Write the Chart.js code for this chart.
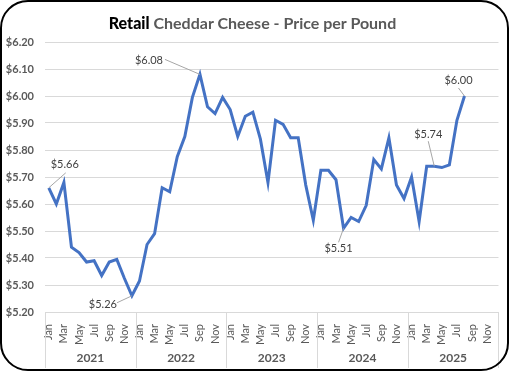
<!DOCTYPE html>
<html>
<head>
<meta charset="utf-8">
<script src="https://cdn.jsdelivr.net/npm/chart.js@4"></script>
<style>
  html, body { margin:0; padding:0; background:#fff; }
  #wrap { position:relative; width:512px; height:372px; overflow:hidden; }
  #frame { position:absolute; left:0; top:0; width:509px; height:371px; box-sizing:border-box;
           border:2px solid #000; border-radius:28px; pointer-events:none; }
  #title { position:absolute; left:0; top:13px; width:505px; text-align:center;
           font:bold 16px Lato, "Liberation Sans", sans-serif; color:#595959; white-space:nowrap; }
  #title b { color:#000; }
  canvas { position:absolute; left:0; top:0; }
</style>
</head>
<body>
<div id="wrap">
  <canvas id="c" width="512" height="372"></canvas>
  <div id="title"><b>Retail</b> Cheddar Cheese - Price per Pound</div>
  <div id="frame"></div>
</div>
<script>
const years = ["2021", "2022", "2023", "2024", "2025"];
const monthNames = ["Jan","Feb","Mar","Apr","May","Jun","Jul","Aug","Sep","Oct","Nov","Dec"];
const yTickValues = [5.2, 5.3, 5.4, 5.5, 5.6, 5.7, 5.8, 5.9, 6.0, 6.1, 6.2];
const prices = [
  5.66, 5.60, 5.68, 5.44, 5.42, 5.385, 5.39, 5.335, 5.385, 5.395, 5.325, 5.26,
  5.315, 5.45, 5.49, 5.66, 5.645, 5.775, 5.85, 5.995, 6.08, 5.96, 5.935, 5.995,
  5.95, 5.85, 5.925, 5.94, 5.84, 5.68, 5.91, 5.895, 5.845, 5.845, 5.67, 5.54,
  5.725, 5.725, 5.69, 5.51, 5.55, 5.535, 5.595, 5.765, 5.73, 5.845, 5.67, 5.62,
  5.70, 5.535, 5.74, 5.74, 5.735, 5.745, 5.91, 6.00
];
const labeledIndices = [0, 11, 20, 39, 51, 55];

const categories = [];
years.forEach(y => monthNames.forEach(m => categories.push(m + " " + y)));

// label placement (style): text offset and leader-line end offset relative to the point
const labelPlacement = {
  0:  { tx: 16,  ty: -23, lx: 17,  ly: -15 },
  11: { tx: -29, ty: 9,   lx: -15, ly: 7 },
  20: { tx: -51, ty: -14, lx: -35, ly: -15 },
  39: { tx: -5,  ty: 20,  lx: -5,  ly: 14 },
  51: { tx: -6,  ty: -32, lx: -6,  ly: -25 },
  55: { tx: -6,  ty: -16, lx: -6,  ly: -8 }
};

const overlay = {
  id: 'overlay',
  afterDraw(chart) {
    const ctx = chart.ctx;
    const xs = chart.scales.x;
    const area = chart.chartArea;
    ctx.save();
    ctx.strokeStyle = '#d9d9d9';
    ctx.lineWidth = 1;
    const half = (xs.getPixelForValue(1) - xs.getPixelForValue(0)) / 2;
    for (let k = 0; k <= years.length; k++) {
      const idx = k * 12;
      const x = Math.round(xs.getPixelForValue(Math.min(idx, categories.length - 1)) + (idx >= categories.length ? half : -half)) + 0.5;
      ctx.beginPath();
      ctx.moveTo(x, area.bottom);
      ctx.lineTo(x, area.bottom + 56);
      ctx.stroke();
    }
    ctx.fillStyle = '#595959';
    ctx.font = 'bold 12px Lato, "Liberation Sans", sans-serif';
    ctx.textAlign = 'center';
    ctx.textBaseline = 'middle';
    years.forEach((y, k) => {
      const x0 = xs.getPixelForValue(k * 12) - half;
      const x1 = xs.getPixelForValue(k * 12 + 11) + half;
      ctx.fillText(y, (x0 + x1) / 2, area.bottom + 46);
    });
    const meta = chart.getDatasetMeta(0);
    ctx.font = '11px Lato, "Liberation Sans", sans-serif';
    ctx.fillStyle = '#404040';
    labeledIndices.forEach(i => {
      const p = meta.data[i];
      const o = labelPlacement[i];
      ctx.strokeStyle = '#a6a6a6';
      ctx.lineWidth = 1;
      ctx.beginPath();
      ctx.moveTo(p.x, p.y);
      ctx.lineTo(p.x + o.lx, p.y + o.ly);
      ctx.stroke();
      ctx.fillText('$' + prices[i].toFixed(2), p.x + o.tx, p.y + o.ty);
    });
    ctx.restore();
  }
};

new Chart(document.getElementById('c'), {
  type: 'line',
  data: {
    labels: categories,
    datasets: [{
      data: prices,
      borderColor: '#4472C4',
      borderWidth: 3,
      pointRadius: 0,
      tension: 0,
      fill: false
    }]
  },
  options: {
    responsive: false,
    animation: false,
    layout: { padding: { left: 0, right: 10, top: 42, bottom: 0 } },
    plugins: { legend: { display: false }, tooltip: { enabled: false } },
    scales: {
      x: {
        type: 'category',
        offset: true,
        grid: { display: false },
        border: { display: false },
        ticks: {
          autoSkip: false, maxRotation: 90, minRotation: 90, padding: 4,
          color: '#595959', font: { family: 'Lato, "Liberation Sans", sans-serif', size: 11 },
          callback: (v, i) => (i % 2 === 0 ? monthNames[i % 12] : '')
        },
        afterFit: s => { s.height = 60; }
      },
      y: {
        min: 5.2, max: 6.2,
        afterBuildTicks: s => { s.ticks = yTickValues.map(v => ({ value: v })); },
        grid: { color: '#d9d9d9', drawTicks: false },
        border: { display: false },
        ticks: {
          padding: 11, color: '#595959',
          font: { family: 'Lato, "Liberation Sans", sans-serif', size: 11, weight: 'bold' },
          callback: v => '$' + Number(v).toFixed(2)
        },
        afterFit: s => { s.width = 45; }
      }
    }
  },
  plugins: [overlay]
});
</script>
</body>
</html>
